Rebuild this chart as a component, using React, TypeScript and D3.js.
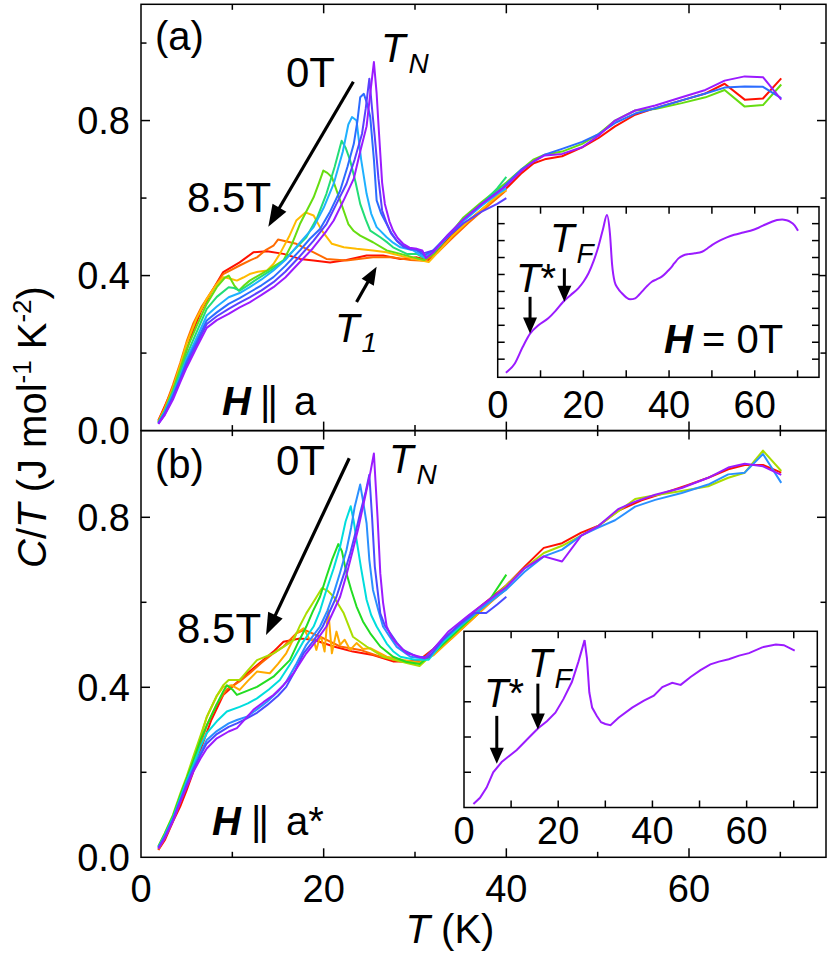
import React from 'react'
import { scaleLinear, line, curveMonotoneX } from 'd3'

// panel (a): H || a, curves from 0T (violet) to 8.5T (red)
const a0 = [[1.9,0.017],[2.6,0.04],[3.5,0.08],[4.3,0.125],[5.0,0.163],[6.1,0.215],[7.2,0.265],[8.3,0.285],[9.6,0.301],[10.8,0.318],[11.9,0.331],[13.2,0.35],[14.5,0.37],[15.8,0.395],[17.4,0.435],[18.8,0.47],[20.3,0.515],[21.1,0.542],[22.3,0.6],[23.3,0.65],[24.0,0.72],[24.7,0.785],[25.1,0.87],[25.5,0.951],[25.8,0.87],[26.0,0.79],[26.4,0.64],[26.7,0.585],[27.2,0.54],[27.6,0.516],[28.1,0.497],[28.7,0.482],[29.4,0.472],[30.2,0.469],[30.8,0.465],[31.2,0.445],[32,0.46],[33.6,0.505],[35.3,0.545],[37.3,0.585],[38.8,0.61],[40.0,0.632],[41.7,0.671],[43.0,0.695],[44.2,0.71],[46.1,0.714],[48.3,0.731],[50.1,0.761],[51.9,0.8],[54.1,0.826],[56.3,0.839],[59.2,0.86],[61.8,0.879],[63.9,0.903],[66.1,0.914],[68.1,0.912],[70.1,0.854]]
const a1 = [[1.9,0.018],[2.6,0.042],[3.5,0.085],[4.3,0.13],[5.0,0.17],[6.1,0.222],[7.2,0.275],[8.3,0.295],[9.6,0.314],[10.8,0.33],[11.9,0.344],[13.2,0.362],[14.5,0.383],[15.8,0.41],[17.4,0.45],[18.9,0.49],[20.3,0.533],[21.4,0.585],[22.5,0.637],[23.4,0.7],[24.2,0.766],[24.6,0.83],[25.0,0.908],[25.3,0.83],[25.6,0.757],[26.0,0.65],[26.4,0.568],[26.9,0.535],[27.4,0.508],[28.0,0.49],[28.7,0.475],[29.5,0.468],[30.2,0.468],[31.0,0.458],[32,0.465],[33.6,0.5],[35.3,0.535],[37.3,0.565],[39,0.585],[40.0,0.6]]
const a2 = [[1.9,0.019],[2.6,0.045],[3.5,0.09],[4.3,0.135],[5.0,0.178],[6.1,0.23],[7.2,0.284],[8.3,0.305],[9.6,0.327],[10.8,0.342],[11.9,0.357],[13.2,0.375],[14.5,0.396],[15.8,0.425],[17.4,0.465],[18.5,0.495],[19.6,0.52],[20.7,0.565],[21.8,0.619],[22.6,0.68],[23.3,0.74],[23.7,0.8],[24.0,0.86],[24.4,0.869],[24.8,0.84],[25.1,0.809],[25.5,0.7],[25.8,0.594],[26.3,0.56],[26.9,0.533],[27.4,0.51],[28.0,0.49],[28.5,0.48],[29.1,0.473],[30.2,0.465],[31,0.452],[32,0.465],[33.6,0.505],[35.3,0.545],[37.3,0.585],[39.5,0.625],[41.7,0.675],[44.2,0.712],[46.1,0.727],[48.3,0.745],[50.1,0.765],[52,0.795],[54.1,0.818],[56.3,0.832],[59.2,0.852],[61.8,0.87],[63.9,0.885],[66.1,0.888],[68.1,0.887],[70.1,0.858]]
const a3 = [[1.9,0.02],[2.6,0.048],[3.5,0.095],[4.3,0.14],[5.0,0.185],[6.1,0.24],[7.2,0.297],[8.3,0.32],[9.6,0.344],[10.8,0.355],[11.9,0.37],[13.2,0.39],[14.5,0.413],[15.8,0.44],[17.4,0.485],[18.9,0.525],[20.0,0.575],[21.1,0.637],[22.1,0.72],[22.7,0.79],[23.1,0.809],[23.6,0.8],[24.1,0.7],[24.7,0.611],[25.2,0.56],[25.8,0.525],[26.9,0.499],[27.6,0.485],[28.4,0.473],[29.8,0.465],[31,0.447],[32,0.46],[33.6,0.5],[35.3,0.54],[37.3,0.58],[39,0.61],[40,0.625]]
const a4 = [[1.9,0.021],[2.6,0.05],[3.5,0.1],[4.3,0.15],[5.0,0.195],[6.1,0.255],[7.2,0.314],[8.3,0.345],[9.6,0.37],[10.2,0.368],[10.8,0.361],[11.9,0.378],[12.7,0.391],[14.0,0.41],[15.2,0.43],[16.5,0.46],[18.1,0.499],[19.3,0.55],[20.3,0.611],[21.2,0.68],[21.97,0.748],[22.4,0.73],[22.9,0.697],[23.5,0.64],[24.0,0.585],[24.6,0.545],[25.1,0.516],[26.2,0.499],[27.0,0.485],[27.6,0.473],[29.1,0.456],[30.2,0.456],[31,0.445],[32,0.46],[33.6,0.5],[35.3,0.545],[37.3,0.585],[39,0.625],[40,0.655]]
const a5 = [[1.9,0.022],[2.6,0.052],[3.5,0.105],[4.3,0.16],[5.0,0.21],[6.1,0.27],[7.2,0.327],[8.3,0.37],[9.2,0.395],[9.6,0.4],[10.2,0.375],[10.7,0.361],[11.3,0.375],[11.9,0.387],[13.8,0.413],[15.6,0.439],[16.5,0.48],[17.4,0.533],[18.2,0.57],[18.9,0.602],[19.5,0.64],[19.96,0.671],[20.4,0.665],[20.9,0.654],[21.8,0.594],[22.7,0.533],[23.3,0.515],[24.0,0.503],[25.4,0.486],[26.9,0.465],[28.4,0.456],[29.8,0.447],[31,0.44],[32,0.455],[33.6,0.5],[35.3,0.55],[37.3,0.59],[40,0.64],[41.7,0.675],[43,0.7],[44.2,0.712],[46.1,0.72],[48.3,0.74],[50.1,0.765],[51.9,0.8],[54.1,0.826],[56.3,0.83],[59.2,0.845],[61.8,0.86],[63.9,0.879],[66.1,0.836],[68.1,0.84],[70.1,0.893]]
const a6 = [[1.9,0.023],[2.6,0.055],[3.5,0.11],[4.3,0.17],[5.0,0.225],[6.1,0.29],[7.2,0.34],[8.2,0.375],[9.0,0.396],[9.8,0.392],[10.5,0.387],[11.2,0.395],[11.9,0.404],[12.8,0.41],[13.8,0.413],[14.5,0.43],[15.2,0.456],[16.2,0.5],[17.0,0.542],[18.0,0.563],[18.9,0.555],[19.8,0.516],[20.9,0.482],[22.2,0.473],[23.6,0.469],[25.4,0.465],[26.9,0.46],[29.1,0.447],[30.5,0.44],[31.5,0.435],[32.5,0.46],[34,0.5],[35.8,0.54],[37.5,0.575],[39.5,0.615],[40,0.62]]
const a7 = [[1.9,0.025],[2.6,0.06],[3.5,0.118],[4.3,0.175],[5.0,0.23],[5.7,0.275],[6.6,0.318],[7.6,0.355],[9.0,0.404],[10.8,0.426],[12.0,0.44],[12.7,0.447],[13.6,0.465],[14.5,0.477],[15.0,0.493],[15.6,0.49],[17.0,0.482],[18.9,0.46],[20.3,0.443],[22.5,0.439],[25.4,0.447],[27.6,0.447],[29.5,0.44],[31,0.438],[32.5,0.46],[34,0.495],[35.8,0.535],[37.5,0.57],[39.5,0.61],[40,0.62]]
const a8 = [[1.9,0.026],[3.2,0.095],[4.6,0.18],[5.7,0.258],[6.6,0.31],[7.6,0.353],[9.0,0.409],[10.8,0.434],[12.3,0.46],[13.8,0.463],[15.6,0.456],[17.4,0.443],[18.9,0.439],[20.7,0.434],[22.5,0.44],[24.7,0.452],[26.5,0.452],[28.4,0.443],[30.2,0.447],[31.5,0.44],[33,0.48],[35,0.525],[37.3,0.57],[40,0.625],[41.7,0.665],[43,0.69],[44.2,0.7],[46.1,0.708],[48.3,0.731],[50.1,0.755],[51.9,0.785],[54.1,0.815],[56.3,0.832],[59.2,0.852],[61.8,0.87],[63.9,0.895],[66.1,0.854],[68.1,0.857],[70.1,0.909]]

// panel (b): H || a*
const b0 = [[1.9,0.02],[2.6,0.045],[3.5,0.085],[4.3,0.13],[5.0,0.165],[5.7,0.2],[6.5,0.232],[7.2,0.256],[8.3,0.28],[9.6,0.296],[10.5,0.304],[11.4,0.325],[12.3,0.347],[13.4,0.365],[14.5,0.382],[15.6,0.405],[16.7,0.433],[18.1,0.48],[19.2,0.51],[20.3,0.543],[21.8,0.613],[22.5,0.665],[23.2,0.723],[23.8,0.775],[24.3,0.825],[25.1,0.904],[25.5,0.95],[25.9,0.8],[26.2,0.668],[26.5,0.6],[26.9,0.543],[27.4,0.52],[28.0,0.503],[29.1,0.48],[30.5,0.472],[31.1,0.468],[32,0.49],[33.7,0.532],[35.8,0.568],[38.0,0.604],[40.0,0.636],[42.0,0.68],[44.1,0.708],[46.1,0.696],[48.2,0.757],[50.1,0.78],[52.3,0.82],[54.1,0.837],[56.3,0.853],[59.2,0.869],[62.1,0.893],[64.3,0.917],[66.1,0.926],[68.1,0.92],[70.1,0.9]]
const b1 = [[1.9,0.022],[2.6,0.047],[3.5,0.088],[4.3,0.133],[5.0,0.17],[5.7,0.205],[6.5,0.24],[7.2,0.268],[8.3,0.29],[9.6,0.307],[10.5,0.315],[11.6,0.327],[12.7,0.34],[13.8,0.358],[15.0,0.38],[15.9,0.401],[16.9,0.44],[17.8,0.48],[18.9,0.51],[19.9,0.543],[21.4,0.613],[22.2,0.665],[22.9,0.715],[23.5,0.765],[24.0,0.81],[24.6,0.86],[25.0,0.9],[25.3,0.8],[25.6,0.684],[26.2,0.574],[26.7,0.545],[27.3,0.527],[28.0,0.505],[28.7,0.488],[30.2,0.472],[31.5,0.47],[33,0.51],[35,0.55],[36.5,0.575],[37.8,0.575],[39,0.595],[40,0.613]]
const b2 = [[1.9,0.023],[2.6,0.05],[3.5,0.09],[4.3,0.135],[5.0,0.175],[5.7,0.21],[6.5,0.245],[7.2,0.276],[8.3,0.297],[9.6,0.315],[10.5,0.323],[11.6,0.331],[12.7,0.348],[13.8,0.366],[15.0,0.39],[15.9,0.413],[17.0,0.455],[18.1,0.5],[19.6,0.543],[20.4,0.58],[21.1,0.621],[21.8,0.67],[22.5,0.723],[23.0,0.775],[23.4,0.825],[24.0,0.877],[24.3,0.84],[24.7,0.786],[25.0,0.7],[25.4,0.629],[26.0,0.58],[26.5,0.543],[27.2,0.52],[28.0,0.495],[29.5,0.472],[31,0.468],[32.5,0.5],[34,0.53],[35.8,0.56],[38,0.598],[40,0.63],[42,0.672],[44.1,0.708],[46.1,0.724],[48.2,0.757],[50,0.775],[51.9,0.793],[54.1,0.825],[56.3,0.841],[59.2,0.857],[62.1,0.877],[64.3,0.901],[66.1,0.905],[68.1,0.949],[70.1,0.881]]
const b3 = [[1.9,0.024],[2.6,0.052],[3.5,0.093],[4.3,0.14],[5.0,0.18],[5.7,0.215],[6.5,0.26],[7.2,0.292],[8.3,0.32],[9.4,0.343],[10.8,0.354],[11.7,0.362],[12.7,0.374],[14,0.395],[15.2,0.417],[16.5,0.46],[17.7,0.505],[18.9,0.543],[19.6,0.58],[20.3,0.629],[21.1,0.68],[21.8,0.731],[22.4,0.79],[22.96,0.826],[23.3,0.79],[23.6,0.747],[24.1,0.68],[24.7,0.606],[25.2,0.57],[25.8,0.543],[26.9,0.503],[27.6,0.485],[28.4,0.472],[30,0.465],[31.5,0.465],[33,0.505],[35,0.545],[37,0.58],[39,0.615],[40,0.63]]
const b4 = [[1.9,0.025],[2.6,0.055],[3.5,0.097],[4.3,0.145],[5.0,0.185],[5.7,0.225],[6.5,0.275],[7.2,0.31],[8.3,0.36],[9.0,0.39],[9.4,0.405],[10.0,0.395],[10.5,0.382],[11.4,0.39],[12.7,0.401],[14.5,0.425],[16.3,0.464],[17.2,0.505],[18.1,0.543],[18.8,0.578],[19.6,0.613],[20.3,0.66],[20.9,0.699],[21.6,0.737],[22.0,0.72],[22.5,0.668],[23.0,0.63],[23.6,0.59],[24.3,0.555],[25.1,0.527],[26.2,0.496],[27.6,0.472],[29,0.46],[30.5,0.455],[32,0.48],[34,0.52],[36,0.56],[38,0.6],[40,0.665]]
const b5 = [[1.9,0.026],[2.6,0.057],[3.5,0.1],[4.3,0.15],[5.0,0.19],[5.7,0.235],[6.5,0.285],[7.2,0.33],[8.3,0.38],[9.0,0.405],[9.6,0.417],[10.8,0.417],[11.7,0.44],[12.7,0.464],[14.5,0.48],[15.6,0.495],[16.7,0.511],[17.4,0.545],[18.1,0.574],[19.0,0.605],[19.8,0.633],[20.4,0.628],[21.1,0.613],[22.2,0.574],[23.2,0.519],[24.7,0.496],[26.5,0.472],[29.1,0.457],[30.5,0.45],[32,0.48],[34,0.52],[36,0.56],[38,0.6],[40,0.64],[42,0.68],[44.1,0.716],[46.1,0.733],[48.2,0.757],[50.1,0.78],[52,0.81],[54.1,0.843],[56.3,0.852],[59.2,0.862],[62.1,0.873],[64.3,0.893],[66.1,0.905],[68.1,0.957],[70.1,0.909]]
const b6 = [[1.9,0.02],[2.6,0.05],[3.5,0.09],[4.3,0.135],[5.0,0.18],[5.7,0.225],[6.5,0.28],[7.2,0.33],[8.3,0.38],[9.0,0.401],[9.9,0.405],[10.8,0.394],[11.7,0.415],[12.7,0.437],[14.1,0.433],[15.0,0.455],[15.9,0.48],[17.0,0.527],[17.8,0.539],[18.5,0.511],[18.9,0.512],[19.2,0.488],[19.6,0.52],[19.8,0.512],[20.1,0.484],[20.5,0.582],[20.9,0.48],[21.4,0.531],[21.8,0.5],[22.3,0.512],[22.9,0.488],[23.6,0.504],[24.3,0.49],[25.1,0.492],[26.9,0.472],[28.7,0.464],[30.5,0.458],[32,0.475],[34,0.515],[36,0.555],[38,0.595],[40,0.635]]
const b7 = [[1.9,0.018],[2.6,0.045],[3.5,0.086],[4.3,0.13],[5.0,0.17],[5.7,0.215],[6.5,0.265],[7.2,0.31],[8.3,0.36],[9.4,0.395],[10.8,0.414],[12.0,0.435],[13.2,0.458],[14.5,0.48],[15.6,0.496],[17.0,0.527],[17.9,0.535],[19.6,0.519],[21.8,0.496],[24.0,0.488],[26.2,0.472],[28.4,0.461],[30.5,0.46],[32,0.48],[34,0.515],[36,0.555],[38,0.595],[40,0.632]]
const b8 = [[1.9,0.017],[2.6,0.04],[3.5,0.084],[4.3,0.12],[5.0,0.158],[5.7,0.2],[6.5,0.252],[7.7,0.323],[9.0,0.382],[10.8,0.417],[12.7,0.452],[14.5,0.484],[15.6,0.507],[17.4,0.515],[18.9,0.512],[21.1,0.496],[23.2,0.484],[25.4,0.476],[27.6,0.461],[29.1,0.461],[30.5,0.465],[32,0.49],[34,0.53],[36,0.57],[38,0.605],[40,0.64],[42.0,0.684],[44.1,0.728],[46.1,0.739],[48.2,0.764],[50.1,0.78],[52.3,0.816],[54.8,0.84],[57.7,0.86],[59.9,0.876],[62.1,0.893],[64.3,0.913],[66.1,0.923],[68.1,0.923],[70.1,0.905]]

// insets, H = 0T
const insetA = [[1.9,0.02],[4.0,0.075],[5.8,0.17],[7.6,0.252],[9.5,0.3],[11.8,0.341],[13.5,0.385],[15.3,0.439],[17,0.478],[18.8,0.518],[20.1,0.56],[21.2,0.607],[22.4,0.68],[23.5,0.764],[24.6,0.87],[25.5,0.951],[26.2,0.842],[26.7,0.66],[27.3,0.557],[28.0,0.52],[29.0,0.489],[30.0,0.465],[30.9,0.453],[32.1,0.459],[33.0,0.48],[34.0,0.508],[35.0,0.535],[35.98,0.557],[37,0.57],[38.3,0.587],[39.5,0.615],[40.3,0.636],[41.2,0.665],[42.2,0.695],[43.3,0.712],[44.5,0.72],[46,0.725],[47.7,0.734],[49,0.755],[50.0,0.773],[51.8,0.8],[53.5,0.819],[55.2,0.834],[57.0,0.846],[59,0.858],[60.9,0.876],[62.5,0.895],[64.0,0.911],[65.2,0.922],[66.4,0.925],[67.4,0.92],[68.3,0.911],[69.3,0.89],[70.1,0.858]]
const insetB = [[2.0,0.02],[3.4,0.055],[4.8,0.113],[6.2,0.2],[8.0,0.258],[9.8,0.297],[11.2,0.326],[14.0,0.403],[15.8,0.451],[17.6,0.49],[19.4,0.538],[21.1,0.615],[22.9,0.712],[24.3,0.828],[25.6,0.95],[26.1,0.847],[26.6,0.654],[27.2,0.567],[28.2,0.519],[29.1,0.484],[30.0,0.474],[31.1,0.467],[32.8,0.509],[35.7,0.567],[38.2,0.606],[40.3,0.635],[42.1,0.683],[44.2,0.708],[46.0,0.696],[48.1,0.741],[50.2,0.78],[52.3,0.812],[54.1,0.828],[56.2,0.841],[58.4,0.862],[60.5,0.876],[63.3,0.909],[66.2,0.925],[67.9,0.921],[70.2,0.89]]

const curvesA = [a0, a1, a2, a3, a4, a5, a6, a7, a8]
const curvesB = [b0, b1, b2, b3, b4, b5, b6, b7, b8]
const colorsA = ['#9b1bff', '#5a40ff', '#2c6cff', '#1fb0ff', '#22dd77', '#66dd11', '#ffbb00', '#ff6a00', '#ff1100']
const colorsB = ['#9b1bff', '#4a4cff', '#2a90ff', '#00dddd', '#22dd22', '#aadd00', '#ffaa00', '#ff6600', '#ff1100']

const xTicks = [10, 20, 30, 40, 50, 60, 70]
const xLabels = [0, 20, 40, 60]
const yTicksA = [0.2, 0.4, 0.6, 0.8, 1.0]
const yTicksB = [0.2, 0.4, 0.6, 0.8]
const yLabels = [0, 0.4, 0.8]
const insetXTicks = [10, 20, 30, 40, 50, 60, 70]
const insetXLabels = [0, 20, 40, 60]
const insetYTicksA = [0.1, 0.2, 0.3, 0.4, 0.5, 0.6, 0.7, 0.8, 0.9]
const insetYTicksB = [0.2, 0.4, 0.6, 0.8]

const FONT = '"Liberation Sans", Arial, Helvetica, sans-serif'

function Arrow({ x1, y1, x2, y2, w, head, hw }) {
  const dx = x2 - x1, dy = y2 - y1
  const len = Math.hypot(dx, dy)
  const ux = dx / len, uy = dy / len
  const bx = x2 - ux * head, by = y2 - uy * head
  const px = -uy, py = ux
  return (
    <g>
      <line x1={x1} y1={y1} x2={bx + ux * 2} y2={by + uy * 2} stroke="black" strokeWidth={w} />
      <polygon points={`${x2},${y2} ${bx + px * hw},${by + py * hw} ${bx - px * hw},${by - py * hw}`} fill="black" />
    </g>
  )
}

// box with inward ticks on all four sides
function Box({ x, y, xt, yt, xMajor, yMajor, big, small }) {
  const [x0, x1] = x.range()
  const [y0, y1] = y.range()
  const tx = xt.map(t => {
    const L = xMajor.includes(t) ? big : small
    return (
      <g key={'x' + t}>
        <line x1={x(t)} x2={x(t)} y1={y0} y2={y0 - L} />
        <line x1={x(t)} x2={x(t)} y1={y1} y2={y1 + L} />
      </g>
    )
  })
  const ty = yt.map(t => {
    const L = yMajor.includes(t) ? big : small
    return (
      <g key={'y' + t}>
        <line x1={x0} x2={x0 + L} y1={y(t)} y2={y(t)} />
        <line x1={x1} x2={x1 - L} y1={y(t)} y2={y(t)} />
      </g>
    )
  })
  return (
    <g stroke="black" strokeWidth={1.5} fill="none">
      <rect x={x0} y={y1} width={x1 - x0} height={y0 - y1} />
      {tx}
      {ty}
    </g>
  )
}

export default function App() {
  const x = scaleLinear().domain([0, 75]).range([141, 826])
  const ya = scaleLinear().domain([0, 1.1]).range([430.6, 4.3])
  const yb = scaleLinear().domain([0, 1.004]).range([857.3, 430.6])
  const xia = scaleLinear().domain([0, 75]).range([497.7, 819])
  const yia = scaleLinear().domain([-0.007, 1.0]).range([377.3, 206.7])
  const xib = scaleLinear().domain([0, 75]).range([464, 817.3])
  const yib = scaleLinear().domain([0, 1.0]).range([807.5, 631.3])

  const lineA = line().x(d => x(d[0])).y(d => ya(d[1]))
  const lineB = line().x(d => x(d[0])).y(d => yb(d[1]))
  const lineIA = line().x(d => xia(d[0])).y(d => yia(d[1])).curve(curveMonotoneX)
  const lineIB = line().x(d => xib(d[0])).y(d => yib(d[1]))

  const fmt = v => v.toFixed(1)

  return (
    <svg width={830} height={953} style={{ position: 'absolute', left: 0, top: 0, background: 'white' }} fontFamily={FONT}>
      <rect width={830} height={953} fill="white" />

      {/* curves */}
      <g fill="none" strokeWidth={2} strokeLinejoin="round">
        {curvesA.map((c, i) => <path key={'a' + i} d={lineA(c)} stroke={colorsA[i]} />).reverse()}
        {curvesB.map((c, i) => <path key={'b' + i} d={lineB(c)} stroke={colorsB[i]} />).reverse()}
      </g>

      <Box x={x} y={ya} xt={xTicks} yt={yTicksA} xMajor={[20, 40, 60]} yMajor={[0.4, 0.8]} big={9} small={5.5} />
      <Box x={x} y={yb} xt={xTicks} yt={yTicksB} xMajor={[20, 40, 60]} yMajor={[0.4, 0.8]} big={9} small={5.5} />

      {/* axis labels */}
      <g fontSize={38} textAnchor="end">
        {yLabels.map(v => <text key={'la' + v} x={130} y={ya(v) + 13.5}>{fmt(v)}</text>)}
        {yLabels.map(v => <text key={'lb' + v} x={130} y={yb(v) + 13.5}>{fmt(v)}</text>)}
      </g>
      <g fontSize={38} textAnchor="middle">
        {xLabels.map(v => <text key={'lx' + v} x={x(v)} y={902}>{v}</text>)}
      </g>
      <text x={450} y={943} fontSize={40} textAnchor="middle">
        <tspan fontStyle="italic">T</tspan> (K)
      </text>
      <text transform="translate(46,427) rotate(-90)" fontSize={40} textAnchor="middle">
        <tspan fontStyle="italic">C</tspan>/<tspan fontStyle="italic">T</tspan> (J mol<tspan fontSize={26} dy={-15}>-1</tspan>
        <tspan dy={15}> K</tspan><tspan fontSize={26} dy={-15}>-2</tspan><tspan dy={15}>)</tspan>
      </text>

      {/* panel (a) annotations */}
      <g fontSize={40}>
        <text x={155} y={50}>(a)</text>
        <text x={286} y={87} fontSize={42}>0T</text>
        <text x={187} y={212} fontSize={42}>8.5T</text>
        <text x={381} y={62} fontStyle="italic">T<tspan fontSize={28} dy={11} dx={3}>N</tspan></text>
        <text x={335} y={342} fontStyle="italic">T<tspan fontSize={28} dy={10} dx={2}>1</tspan></text>
        <text y={415}>
          <tspan x={222} fontWeight="bold" fontStyle="italic">H</tspan>
          <tspan x={260} letterSpacing={-3}>||</tspan>
          <tspan x={294}>a</tspan>
        </text>
      </g>
      <Arrow x1={x(23.25)} y1={ya(0.9)} x2={x(13.94)} y2={ya(0.526)} w={3.2} head={22} hw={8} />
      <Arrow x1={x(23.6)} y1={ya(0.332)} x2={x(25.8)} y2={ya(0.423)} w={3.2} head={18} hw={7} />

      {/* panel (b) annotations */}
      <g fontSize={40}>
        <text x={155} y={478}>(b)</text>
        <text x={276} y={475} fontSize={42}>0T</text>
        <text x={177} y={643} fontSize={42}>8.5T</text>
        <text x={389} y={473} fontStyle="italic">T<tspan fontSize={28} dy={11} dx={3}>N</tspan></text>
        <text y={835}>
          <tspan x={212} fontWeight="bold" fontStyle="italic">H</tspan>
          <tspan x={251} letterSpacing={-3}>||</tspan>
          <tspan x={286}>a*</tspan>
        </text>
      </g>
      <Arrow x1={x(22.8)} y1={yb(0.939)} x2={x(13.69)} y2={yb(0.523)} w={3.2} head={22} hw={8} />

      {/* inset (a) */}
      <rect x={497.7} y={206.7} width={321.3} height={170.6} fill="white" />
      <path d={lineIA(insetA)} fill="none" stroke={colorsA[0]} strokeWidth={2} />
      <Box x={xia} y={yia} xt={insetXTicks} yt={insetYTicksA} xMajor={insetXTicks} yMajor={insetYTicksA} big={7} small={7} />
      <g fontSize={38} textAnchor="middle">
        {insetXLabels.map(v => <text key={'ia' + v} x={xia(v)} y={418}>{v}</text>)}
      </g>
      <g fontSize={40}>
        <text x={550} y={252} fontStyle="italic">T<tspan fontSize={28} dy={11} dx={2}>F</tspan></text>
        <text x={516} y={292}><tspan fontStyle="italic">T</tspan>*</text>
        <text y={353}>
          <tspan x={664} fontWeight="bold" fontStyle="italic">H</tspan>
          <tspan x={702}>= 0T</tspan>
        </text>
      </g>
      <Arrow x1={xia(7.55)} y1={yia(0.468)} x2={xia(7.55)} y2={yia(0.252)} w={3} head={16} hw={7} />
      <Arrow x1={xia(15.56)} y1={yia(0.636)} x2={xia(15.56)} y2={yia(0.439)} w={3} head={16} hw={7} />

      {/* inset (b) */}
      <rect x={464} y={631.3} width={353.3} height={176.2} fill="white" />
      <path d={lineIB(insetB)} fill="none" stroke={colorsB[0]} strokeWidth={2} />
      <Box x={xib} y={yib} xt={insetXTicks} yt={insetYTicksB} xMajor={insetXTicks} yMajor={insetYTicksB} big={7} small={7} />
      <g fontSize={38} textAnchor="middle">
        {insetXLabels.map(v => <text key={'ib' + v} x={xib(v)} y={844}>{v}</text>)}
      </g>
      <g fontSize={40}>
        <text x={528} y={677} fontStyle="italic">T<tspan fontSize={28} dy={11} dx={2}>F</tspan></text>
        <text x={484} y={707}><tspan fontStyle="italic">T</tspan>*</text>
      </g>
      <Arrow x1={xib(6.96)} y1={yib(0.52)} x2={xib(6.96)} y2={yib(0.248)} w={3} head={16} hw={7} />
      <Arrow x1={xib(15.68)} y1={yib(0.703)} x2={xib(15.68)} y2={yib(0.442)} w={3} head={16} hw={7} />
    </svg>
  )
}
